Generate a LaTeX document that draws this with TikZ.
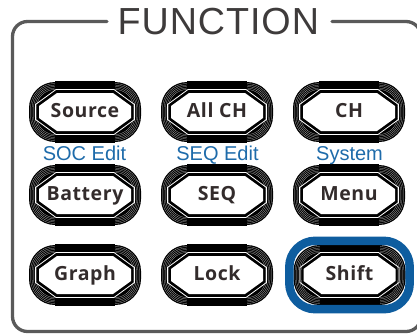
\documentclass[tikz,border=0pt]{standalone}
\usepackage{fontspec}
\usepackage{tikz}
\usetikzlibrary{fit}
\newfontfamily\titlefont[LetterSpace=2.5]{Liberation Sans}
\newfontfamily\keyfont[LetterSpace=3]{Open Sans}
\newfontfamily\subfont{Liberation Sans}
\definecolor{framegray}{HTML}{5A5A5A}
\definecolor{titlegray}{HTML}{3E3B3B}
\definecolor{keytext}{HTML}{332C2C}
\definecolor{subblue}{HTML}{1E6BAA}
\definecolor{hlblue}{HTML}{0E5D9F}

\begin{document}
\begin{tikzpicture}[x=1pt, y=-1pt,
  keycap/.pic={
    \fill[black, rounded corners=26pt] (-56,-30) rectangle (56,30);
    \foreach \k in {1.5,3,4.5,6,7.5}
      \draw[gray!55, line width=0.25pt, rounded corners={(26-\k)*1pt}] (-56+\k,-30+\k) rectangle (56-\k,30-\k);
    \fill[black] (-30,-31) rectangle (30,-18);
    \fill[black] (-30,18) rectangle (30,31);
    \draw[white, line width=0.8pt] (-29,-22.5) -- (29,-22.5) -- (49.5,-7.5) -- (49.5,7.5) -- (29,22.5) -- (-29,22.5) -- (-49.5,7.5) -- (-49.5,-7.5) -- cycle;
    \fill[white] (-28,-19) -- (28,-19) -- (46,-6) -- (46,6) -- (28,19) -- (-28,19) -- (-46,6) -- (-46,-6) -- cycle;},
  key/.style={minimum width=112pt, minimum height=60pt, inner sep=0pt,
    text=keytext, text height=13.8pt, text depth=2.8pt, font=\keyfont\bfseries\fontsize{19.5}{19.5}\selectfont},
  sub/.style={anchor=base, text=subblue, font=\subfont\fontsize{20}{20}\selectfont}]
\useasboundingbox (0,0) rectangle (417,333);
\draw[framegray, line width=3.3pt, line cap=round, rounded corners=15pt] (107,21.5) -| (12.5,331.5) -| (421,21.5) -- (332,21.5);
\node[anchor=base, inner sep=0pt, text=titlegray, font=\titlefont\fontsize{37.7}{37.7}\selectfont] (title) at (218.3,34.3) {FUNCTION};
\foreach \x/\y in {85/112, 217/112, 349/112, 85/195, 217/195, 349/195, 85/275, 217/275, 349.5/275}
  \pic at (\x,\y) {keycap};
\node[key] (source) at (85,112) {Source};
\node[key] (allch) at (217,112) {All CH};
\node[key] (ch) at (349,112) {CH};
\node[sub] (socedit) at (84.5,160.5) {SOC Edit};
\node[sub] (seqedit) at (217.5,160.5) {SEQ Edit};
\node[sub] (system) at (349.5,160.5) {System};
\node[key] (battery) at (85,195) {Battery};
\node[key] (seq) at (217,195) {SEQ};
\node[key] (menu) at (349,195) {Menu};
\node[key] (graph) at (85,275) {Graph};
\node[key] (lock) at (217,275) {Lock};
\node[key] (shift) at (349.5,275) {Shift};
\node[draw=hlblue, line width=8.5pt, rounded corners=26pt, inner sep=4pt, fit=(shift)] (ring) {};
\end{tikzpicture}
\end{document}
